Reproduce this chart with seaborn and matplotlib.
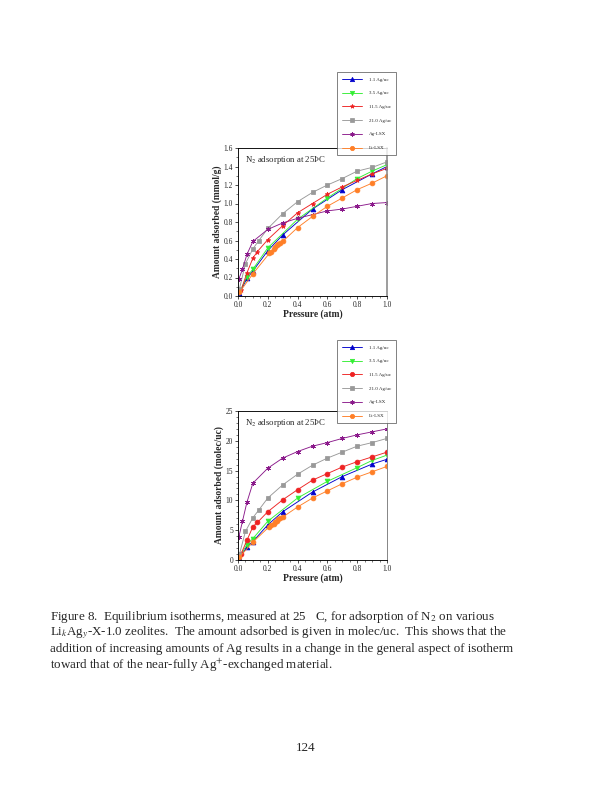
import matplotlib
matplotlib.use("Agg")
import matplotlib.pyplot as plt
import seaborn as sns
from matplotlib.ticker import MultipleLocator

# --- data ---
labels = ["1.1 Ag/uc", "3.5 Ag/uc", "11.5 Ag/uc", "21.0 Ag/uc", "Ag-LSX", "Li-LSX"]
colors = ["#0000cc", "#33ee33", "#ee2222", "#999999", "#8b1a8b", "#ff7f27"]

p_11 = [0.01, 0.06, 0.1, 0.2, 0.3, 0.5, 0.7, 0.9, 1.0]
mmol_11 = [0.03, 0.19, 0.27, 0.49, 0.66, 0.94, 1.15, 1.32, 1.40]
molec_11 = [0.3, 2.2, 3.1, 5.9, 8.1, 11.4, 14.0, 16.1, 16.9]

p_35 = [0.01, 0.06, 0.1, 0.2, 0.4, 0.6, 0.8, 0.9, 1.0]
mmol_35 = [0.04, 0.21, 0.29, 0.52, 0.83, 1.06, 1.27, 1.35, 1.42]
molec_35 = [0.5, 2.6, 3.6, 6.5, 10.4, 13.2, 15.5, 16.7, 17.6]

p_115 = [0.02, 0.06, 0.1, 0.13, 0.2, 0.3, 0.4, 0.5, 0.6, 0.7, 0.8, 0.9, 1.0]
mmol_115 = [0.06, 0.25, 0.41, 0.48, 0.61, 0.76, 0.90, 1.00, 1.10, 1.18, 1.25, 1.32, 1.38]
molec_115 = [1.0, 3.3, 5.6, 6.3, 8.1, 10.1, 11.8, 13.4, 14.5, 15.6, 16.5, 17.3, 18.1]

p_210 = [0.01, 0.05, 0.1, 0.14, 0.2, 0.3, 0.4, 0.5, 0.6, 0.7, 0.8, 0.9, 1.0]
mmol_210 = [0.08, 0.35, 0.51, 0.60, 0.73, 0.89, 1.02, 1.12, 1.20, 1.27, 1.35, 1.39, 1.45]
molec_210 = [1.0, 4.8, 7.1, 8.4, 10.4, 12.6, 14.4, 15.9, 17.1, 18.1, 19.1, 19.7, 20.4]

p_ag = [0.005, 0.03, 0.06, 0.1, 0.2, 0.3, 0.4, 0.5, 0.6, 0.7, 0.8, 0.9, 1.0]
mmol_ag = [0.18, 0.29, 0.45, 0.59, 0.72, 0.79, 0.84, 0.88, 0.92, 0.94, 0.97, 1.00, 1.01]
molec_ag = [3.8, 6.5, 9.7, 12.9, 15.4, 17.1, 18.2, 19.1, 19.7, 20.4, 21.0, 21.5, 22.0]

p_li = [0.01, 0.1, 0.21, 0.22, 0.24, 0.25, 0.26, 0.27, 0.28, 0.3, 0.4, 0.5, 0.6, 0.7, 0.8, 0.9, 1.0]
mmol_li = [0.04, 0.24, 0.46, 0.48, 0.51, 0.53, 0.55, 0.56, 0.57, 0.59, 0.74, 0.86, 0.97, 1.06, 1.15, 1.22, 1.30]
molec_li = [0.5, 3.0, 5.6, 5.8, 6.1, 6.4, 6.6, 6.8, 7.0, 7.2, 8.9, 10.4, 11.6, 12.8, 13.9, 14.8, 15.7]

pressures = [p_11, p_35, p_115, p_210, p_ag, p_li]
top_vals = [mmol_11, mmol_35, mmol_115, mmol_210, mmol_ag, mmol_li]
bot_vals = [molec_11, molec_35, molec_115, molec_210, molec_ag, molec_li]

asterisk = (6, 2, 0)
top_markers = ["^", "v", "*", "s", asterisk, "o"]
bot_markers = ["^", "v", "o", "s", asterisk, "o"]

sns.set_style("ticks")
plt.rcParams["font.family"] = ["Liberation Serif", "DejaVu Serif"]
plt.rcParams["mathtext.fontset"] = "stix"

fig = plt.figure(figsize=(8.5, 11), dpi=72)

ax_top = fig.add_axes([238 / 612, 1 - 296 / 792, 149 / 612, 148 / 792])
ax_bot = fig.add_axes([238 / 612, 1 - 560 / 792, 149 / 612, 149 / 792])


def draw(ax, values, markers, ylim, ymaj, ymin, ylabel, yfmt):
    for x, y, lab, col, mk in zip(pressures, values, labels, colors, markers):
        sns.lineplot(x=x, y=y, ax=ax, color=col, marker=mk, markersize=4.8,
                     markeredgecolor=col, linewidth=0.9, label=lab, legend=False)
    ax.set_xlim(0, 1.0)
    ax.set_ylim(*ylim)
    ax.xaxis.set_minor_locator(MultipleLocator(0.05))
    ax.yaxis.set_major_locator(MultipleLocator(ymaj))
    ax.yaxis.set_minor_locator(MultipleLocator(ymin))
    ax.set_xticks([0, 0.2, 0.4, 0.6, 0.8, 1.0])
    ax.set_xticklabels(["0.0", "0.2", "0.4", "0.6", "0.8", "1.0"])
    ax.yaxis.set_major_formatter(yfmt)
    ax.tick_params(which="major", length=3, width=0.8, labelsize=7.5, pad=2)
    ax.tick_params(which="minor", length=1.8, width=0.6)
    for s in ["left", "bottom", "top"]:
        ax.spines[s].set_linewidth(0.9)
        ax.spines[s].set_color("black")
    ax.spines["right"].set_color("#888888")
    ax.spines["right"].set_linewidth(1.6)
    ax.set_xlabel("Pressure (atm)", fontsize=9.5, fontweight="bold", labelpad=0)
    ax.set_ylabel(ylabel, fontsize=9.5, fontweight="bold", labelpad=1)
    ax.text(0.05, 0.96, "N$_2$ adsorption at 25ÞC", transform=ax.transAxes,
            fontsize=8.8, va="top", ha="left")


draw(ax_top, top_vals, top_markers, (0, 1.6), 0.2, 0.1,
     "Amount adsorbed (mmol/g)", "{x:.1f}")
draw(ax_bot, bot_vals, bot_markers, (0, 25), 5, 1,
     "Amount adsorbed (molec/uc)", "{x:.0f}")
ax_bot.spines["right"].set_linewidth(1.0)

for ax, anchor in [(ax_top, 1 - 72 / 792), (ax_bot, 1 - 340 / 792)]:
    h, l = ax.get_legend_handles_labels()
    leg = fig.legend(h, l, loc="upper left", bbox_to_anchor=(337 / 612, anchor),
                     fontsize=5, frameon=True, fancybox=False, edgecolor="#555555",
                     handlelength=4.0, labelspacing=1.85, borderpad=1.0,
                     handletextpad=1.4, markerscale=0.9, borderaxespad=0)
    leg.get_frame().set_linewidth(0.9)

caption = [
    "Figure 8.  Equilibrium isotherms, measured at 25   C, for adsorption of N$_2$ on various",
    "Li$_k$Ag$_y$-X-1.0 zeolites.  The amount adsorbed is given in molec/uc.  This shows that the",
    "addition of increasing amounts of Ag results in a change in the general aspect of isotherm",
    "toward that of the near-fully Ag$^{+}$-exchanged material.",
]
for i, line in enumerate(caption):
    fig.text(50 / 612, 1 - (617 + 16 * i) / 792, line, fontsize=13, va="center", ha="left")

fig.text(306 / 612, 1 - 748 / 792, "124", fontsize=13, ha="center", va="center")

fig.savefig("out.png", dpi=72)
